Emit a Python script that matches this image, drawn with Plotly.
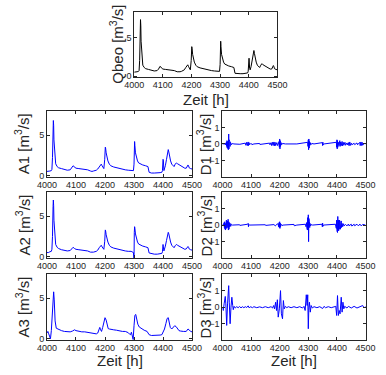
import plotly.graph_objects as go

# ---------------- data ----------------
q_t = [4000,4005,4010,4015,4017,4019,4021,4022,4023,4024,4026,4028,4030,4035,4040,4050,4060,4070,4080,4085,
       4090,4093,4097,4100,4110,4120,4130,4140,4150,4155,4160,4165,4170,4175,4180,4184,4187,4190,4193,4196,
       4199,4201,4202,4204,4207,4210,4215,4220,4230,4240,4250,4255,4260,4270,4280,4290,4298,4300,4301,4302,
       4303,4305,4308,4312,4316,4320,4330,4340,4348,4352,4360,4370,4380,4390,4396,4398,4400,4401,4403,4405,
       4408,4412,4416,4418,4420,4423,4426,4430,4434,4438,4442,4446,4450,4455,4460,4465,4470,4475,4480,4484,
       4486,4488,4490,4495,4500]
qbeo = [0.5,0.5,0.55,0.6,0.7,2.0,6.0,7.3,6.5,4.5,2.8,1.8,1.4,1.1,0.95,0.85,0.75,0.65,0.7,0.9,
        1.25,1.1,1.0,0.9,0.85,0.8,0.75,0.7,0.55,0.5,0.55,0.6,0.65,0.8,1.1,1.4,1.45,1.2,0.9,0.8,
        2.0,3.8,3.6,2.8,2.2,1.8,1.4,1.2,1.05,0.95,0.9,0.8,0.75,0.7,0.65,0.65,0.6,1.5,3.5,4.5,
        3.8,2.8,2.2,1.8,1.55,1.45,1.3,1.2,1.1,0.35,0.3,0.3,0.3,0.35,0.4,0.6,2.2,2.3,1.0,0.8,
        1.2,2.0,3.0,3.3,2.9,2.2,1.8,1.4,1.2,1.1,1.4,1.6,1.45,1.35,1.2,1.05,0.95,0.9,0.9,1.2,
        1.35,1.2,0.95,0.85,0.8]
a1 = [0.5,0.5,0.55,0.6,0.75,2.2,5.8,6.8,6.2,4.4,2.9,1.9,1.45,1.1,0.95,0.85,0.75,0.65,0.7,0.9,
      1.2,1.1,1.0,0.9,0.85,0.8,0.75,0.7,0.55,0.5,0.55,0.6,0.65,0.8,1.1,1.35,1.4,1.2,0.95,0.85,
      2.0,3.5,3.4,2.8,2.2,1.8,1.4,1.2,1.05,0.95,0.9,0.8,0.75,0.7,0.65,0.65,0.6,1.4,3.4,4.2,
      3.7,2.8,2.2,1.8,1.55,1.45,1.3,1.2,1.1,0.4,0.3,0.3,0.3,0.35,0.4,0.6,2.0,1.9,0.6,0.8,
      1.2,2.0,2.9,3.2,2.9,2.2,1.8,1.4,1.2,1.1,1.4,1.55,1.45,1.35,1.2,1.05,0.95,0.9,0.9,1.2,
      1.3,1.2,0.95,0.85,0.8]

a2_t = [4000,4005,4010,4015,4017,4019,4021,4022,4023,4024,4026,4028,4030,4035,4040,4050,4060,4070,4080,4085,
        4090,4095,4100,4110,4120,4130,4140,4150,4160,4170,4175,4180,4184,4187,4190,4193,4196,4199,4201,4202,
        4204,4207,4210,4215,4220,4230,4240,4250,4260,4270,4280,4290,4298,4300,4301,4302,4303,4305,4308,4312,
        4316,4320,4330,4340,4348,4352,4360,4370,4380,4390,4396,4398,4400,4401,4403,4405,4408,4412,4416,4418,
        4420,4423,4426,4430,4434,4438,4442,4446,4450,4455,4460,4465,4470,4475,4480,4484,4486,4488,4490,4495,4500]
a2 = [0.5,0.5,0.6,0.65,0.9,2.5,6.2,7.0,6.3,4.5,2.9,2.0,1.5,1.15,1.0,0.85,0.75,0.7,0.75,0.95,
      1.15,1.0,0.9,0.85,0.8,0.75,0.7,0.55,0.55,0.65,0.8,1.1,1.35,1.4,1.2,1.0,0.9,1.9,3.3,3.2,
      2.7,2.2,1.8,1.4,1.2,1.05,0.95,0.9,0.75,0.7,0.65,0.65,0.5,-0.3,3.0,3.7,3.5,2.8,2.2,1.8,
      1.55,1.45,1.3,1.2,1.1,0.45,0.35,0.3,0.3,0.35,0.4,0.6,1.5,1.2,0.7,0.9,1.3,2.0,2.8,3.0,
      2.8,2.2,1.8,1.4,1.2,1.1,1.35,1.5,1.4,1.3,1.2,1.05,0.95,0.9,0.95,1.15,1.25,1.15,0.95,0.85,0.8]

a3_t = [4000,4003,4006,4009,4012,4015,4018,4021,4023,4025,4028,4032,4040,4050,4060,4070,4080,4088,4095,4100,
        4110,4120,4130,4140,4150,4160,4170,4175,4179,4182,4185,4188,4192,4196,4200,4204,4207,4211,4215,4220,
        4230,4240,4250,4260,4270,4280,4285,4288,4291,4294,4297,4300,4303,4306,4309,4313,4318,4325,4335,4345,
        4352,4360,4370,4380,4390,4396,4400,4405,4410,4414,4418,4421,4425,4430,4435,4440,4445,4450,4455,4460,
        4465,4470,4480,4486,4490,4495,4500]
a3 = [0.7,0.9,0.6,0.1,0.0,1.0,3.5,5.3,5.8,4.8,2.2,1.3,1.15,1.0,0.9,0.85,0.85,0.95,1.1,1.0,
      0.9,0.85,0.85,0.8,0.75,0.7,0.6,0.7,1.0,1.4,1.1,0.9,1.4,2.1,2.6,2.3,1.6,1.25,1.2,1.15,
      1.1,1.05,0.95,0.9,0.9,0.75,0.55,0.5,0.8,0.4,-0.1,1.6,2.9,3.0,2.4,1.8,1.45,1.25,1.05,0.9,
      0.5,0.4,0.4,0.4,0.45,0.5,0.8,1.2,1.9,2.5,2.6,2.2,1.4,1.2,1.35,1.6,1.5,1.2,1.0,0.95,
      0.9,0.9,0.9,1.2,1.1,0.9,0.85]

d1_t = [4000,4005,4006,4010,4011,4014,4015,4016,4017,4018,4019,4020,4021,4022,4023,4024,4025,4026,4027,4028,
        4029,4030,4032,4035,4040,4060,4061,4080,4082,4085,4087,4090,4091,4093,4095,4100,4103,4110,4130,4131,
        4150,4165,4166,4170,4172,4175,4177,4180,4181,4184,4186,4190,4193,4198,4199,4200,4201,4202,4203,4205,
        4207,4210,4220,4250,4251,4260,4298,4299,4300,4301,4302,4303,4304,4305,4307,4309,4312,4320,4349,4350,
        4351,4352,4355,4398,4399,4400,4401,4402,4403,4405,4407,4410,4411,4413,4415,4418,4419,4422,4424,4428,
        4430,4435,4437,4440,4442,4445,4446,4450,4452,4460,4462,4470,4472,4480,4481,4484,4485,4488,4490,4495,4500]
d1 = [0,0.03,-0.03,0.05,-0.05,0.1,-0.15,0.2,-0.25,0.15,-0.3,0.35,-0.35,0.6,-0.3,0.25,-0.2,0.15,-0.15,0.1,
      -0.1,0.05,-0.05,0.03,0,0.02,-0.02,0.05,-0.08,0.1,-0.1,0.12,-0.1,0.08,-0.05,0.04,-0.04,0,0.03,-0.03,
      0,0.05,-0.05,0.08,-0.1,0.1,-0.08,0.12,-0.12,0.1,-0.1,0.08,-0.1,0.15,-0.2,0.3,-0.3,0.2,-0.15,0.08,
      -0.05,0.03,0,0.02,-0.02,0,0.1,-0.15,0.25,-0.35,0.3,-0.25,0.15,-0.1,0.08,-0.05,0.03,0,0.08,-0.1,
      0.1,-0.05,0,0.1,-0.2,0.25,-0.3,0.2,-0.2,0.1,-0.1,0.2,-0.15,0.12,-0.1,0.15,-0.12,0.1,-0.08,0.1,
      -0.08,0.06,-0.06,0.08,-0.1,0.12,-0.1,0.05,-0.05,0.04,-0.04,0.06,-0.05,0.1,-0.1,0.12,-0.1,0.1,-0.08,0.03,0]

d2_t = [4000,4003,4004,4006,4007,4008,4009,4010,4011,4012,4013,4014,4015,4016,4017,4018,4019,4020,4021,4022,
        4023,4024,4025,4027,4029,4032,4035,4060,4061,4088,4089,4090,4091,4092,4095,4150,4151,4180,4185,4190,
        4195,4196,4198,4199,4200,4201,4202,4203,4205,4208,4212,4250,4251,4260,4290,4292,4294,4295,4296,4297,
        4298,4299,4300,4301,4302,4303,4304,4305,4306,4308,4310,4315,4348,4349,4350,4351,4353,4395,4396,4397,
        4398,4399,4400,4401,4402,4403,4404,4405,4406,4407,4408,4409,4410,4411,4412,4413,4414,4415,4416,4418,
        4420,4423,4425,4430,4435,4440,4442,4450,4452,4460,4462,4470,4475,4480,4485,4490,4500]
d2 = [0,0.05,-0.05,0.15,-0.15,0.2,-0.25,0.1,-0.3,0.2,-0.1,0.3,-0.2,0.1,-0.2,0.25,-0.15,0.35,-0.3,0.2,
      -0.25,0.15,-0.1,0.1,-0.08,0.05,0,0.02,-0.02,0.05,-0.08,0.1,-0.1,0.05,0,0.02,-0.02,0.03,-0.05,0.05,
      0.08,-0.1,0.15,-0.15,0.2,-0.2,0.12,-0.1,0.05,-0.03,0,0.04,-0.04,0,0.05,-0.1,0.15,-0.2,0.3,-0.3,
      0.45,-0.2,0.62,-1.0,0.4,-0.35,0.2,-0.15,0.1,-0.05,0.03,0,0.05,-0.1,0.12,-0.08,0,0.05,-0.1,0.2,
      -0.2,0.3,-0.35,0.4,-0.45,0.52,-0.3,0.3,-0.35,0.25,-0.25,0.3,-0.2,0.2,-0.25,0.15,-0.2,0.25,-0.15,0.1,
      -0.1,0.08,-0.05,0.04,-0.05,0.06,-0.04,0.05,-0.06,0.05,-0.04,0.05,-0.05,0.06,-0.05,0.04,0]

d3_t = [4000,4003,4006,4010,4012,4015,4018,4022,4024,4027,4030,4033,4036,4038,4041,4045,4050,4055,4060,4065,
        4070,4075,4080,4085,4090,4094,4098,4105,4110,4120,4130,4140,4150,4160,4170,4175,4179,4182,4186,4189,
        4192,4195,4199,4203,4206,4210,4213,4216,4220,4225,4230,4240,4250,4260,4270,4280,4285,4289,4293,4296,
        4298,4300,4302,4304,4307,4310,4314,4320,4330,4340,4350,4355,4360,4370,4380,4390,4396,4399,4402,4405,
        4408,4411,4415,4418,4421,4424,4427,4435,4440,4450,4460,4470,4480,4490,4495,4500]
d3 = [0,-0.2,0.2,0.65,0.2,-1.1,0.2,1.3,0.3,-1.0,0.0,0.6,0.1,-0.15,0.05,-0.05,0.03,-0.03,0.04,-0.04,
      0.03,-0.03,0.03,-0.02,0.08,-0.05,0.03,-0.03,0.03,-0.03,0.02,-0.03,0.03,-0.03,0.03,-0.05,0.1,-0.1,0.3,-0.2,
      0.45,-0.6,-0.1,1.0,-0.4,-0.7,0.4,-0.1,0.05,-0.03,0.03,-0.03,0.03,-0.03,0.03,-0.05,0.05,-0.2,0.75,0.1,
      0.75,-1.3,0.0,0.3,-0.3,0.1,-0.05,0.03,-0.03,0.03,-0.08,0.05,-0.03,0.03,-0.03,0.03,0.05,-0.5,0.7,-0.5,
      -0.2,-0.4,0.6,-0.3,0.3,-0.1,0.05,-0.05,0.05,-0.05,0.05,-0.05,0.05,0.1,-0.05,0.05]

x_ticks = [4000, 4100, 4200, 4300, 4400, 4500]
a_ticks = [0, 5]
d_ticks = [-1, 0, 1]

# ---------------- layout ----------------
W, H = 386, 375
def fx(a, b): return [a / W, b / W]
def fy(top, bot): return [1 - bot / H, 1 - top / H]
def px(x): return x / W
def py(y): return 1 - y / H

AX = "#262626"
tickfont = dict(family="Liberation Sans, Arial, sans-serif", size=9, color=AX)
titlefont = dict(family="Liberation Sans, Arial, sans-serif", size=15, color=AX)

panels = [
    # (t, y, color, xdom, ydom, yrange, yticks, title)
    (q_t, qbeo, "black", fx(131, 282), fy(12, 78), [-0.15, 8.3], a_ticks, "Qbeo [m<sup>3</sup>/s]"),
    (q_t, a1, "blue", fx(39, 192), fy(112, 179), [-0.2, 8.0], a_ticks, "A1 [m<sup>3</sup>/s]"),
    (d1_t, d1, "blue", fx(224, 375), fy(112, 179), [-2, 2], d_ticks, "D1 [m<sup>3</sup>/s]"),
    (a2_t, a2, "blue", fx(39, 192), fy(194, 261), [-0.2, 8.0], a_ticks, "A2 [m<sup>3</sup>/s]"),
    (d2_t, d2, "blue", fx(224, 375), fy(194, 261), [-2, 2], d_ticks, "D2 [m<sup>3</sup>/s]"),
    (a3_t, a3, "blue", fx(39, 192), fy(277, 344), [-0.2, 8.0], a_ticks, "A3 [m<sup>3</sup>/s]"),
    (d3_t, d3, "blue", fx(224, 375), fy(277, 344), [-2, 2], d_ticks, "D3 [m<sup>3</sup>/s]"),
]

fig = go.Figure()
layout = dict(width=W, height=H, margin=dict(l=0, r=0, t=0, b=0),
              paper_bgcolor="white", plot_bgcolor="white", showlegend=False)
annotations = []
for i, (t, y, col, xd, yd, yr, yt, title) in enumerate(panels, start=1):
    sx = "" if i == 1 else str(i)
    fig.add_trace(go.Scatter(x=t, y=y, mode="lines", line=dict(color=col, width=1),
                             xaxis="x" + sx, yaxis="y" + sx, hoverinfo="skip"))
    layout["xaxis" + sx] = dict(domain=xd, range=[4000, 4500], tickvals=x_ticks,
                                anchor="y" + sx, showline=True, linecolor=AX, linewidth=1,
                                mirror="ticks", ticks="inside", ticklen=3, tickcolor=AX,
                                ticklabelstandoff=-1,
                                showgrid=False, zeroline=False, tickfont=tickfont)
    layout["yaxis" + sx] = dict(domain=yd, range=yr, tickvals=yt,
                                anchor="x" + sx, showline=True, linecolor=AX, linewidth=1,
                                mirror="ticks", ticks="inside", ticklen=3, tickcolor=AX,
                                showgrid=False, zeroline=False, tickfont=tickfont)
    # y axis title as rotated annotation
    xt = {1: 112, 2: 13, 3: 205, 4: 13, 5: 205, 6: 13, 7: 205}[i]
    annotations.append(dict(text=title, xref="paper", yref="paper",
                            x=px(xt), y=(yd[0] + yd[1]) / 2, textangle=-90,
                            showarrow=False, font=titlefont, xanchor="center", yanchor="middle"))

for (xc, yc) in [((131 + 282) / 2, 101), ((39 + 192) / 2, 364), ((224 + 375) / 2, 364)]:
    annotations.append(dict(text="Zeit [h]", xref="paper", yref="paper", x=px(xc), y=py(yc),
                            showarrow=False, font=titlefont, xanchor="center", yanchor="middle"))

layout["annotations"] = annotations
fig.update_layout(**layout)
# remove the default 8px page margin so the figure fills the window exactly
fig.write_html("out.html", config={"displayModeBar": False},
               post_script="document.body.style.margin='0px';")
